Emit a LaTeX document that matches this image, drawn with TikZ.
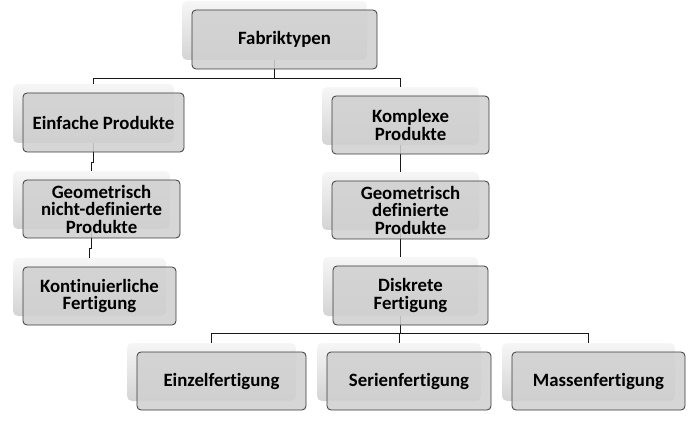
\documentclass[tikz,border=0pt]{standalone}
\usepackage{fontspec}
\setmainfont{Carlito}[RawFeature={-liga;-clig}]
\usetikzlibrary{calc}
\pgfdeclarelayer{shadowlayer}
\pgfdeclarelayer{connlayer}
\pgfsetlayers{shadowlayer,connlayer,main}
\definecolor{boxfill}{HTML}{D0D0D0}
\definecolor{boxline}{HTML}{3A3A3A}
\definecolor{shtop}{HTML}{F6F6F6}
\definecolor{shbot}{HTML}{D4D4D4}
\newcommand\mkbox[6]{%
  \pgfmathsetmacro\bw{#4-#2}%
  \pgfmathsetmacro\bh{#5-#3}%
  \pgfmathsetmacro\cx{(#2+#4)/2}%
  \pgfmathsetmacro\cy{(#3+#5)/2}%
  \begin{pgfonlayer}{shadowlayer}
    \node[shadowbox, minimum width=\bw pt, minimum height=\bh pt] (#1-s) at (\cx-10,\cy-9) {};
  \end{pgfonlayer}
  \node[mainbox, minimum width=\bw pt, minimum height=\bh pt] (#1) at (\cx,\cy) {#6};
}
\begin{document}
\begin{tikzpicture}[x=1pt,y=-1pt,
  shadowbox/.style={rectangle, rounded corners=5pt, top color=shtop, bottom color=shbot, draw=none, inner sep=0pt},
  mainbox/.style={rectangle, rounded corners=4pt, fill=boxfill, fill opacity=0.88, text opacity=1, draw=boxline, line width=0.8pt, inner sep=0pt, align=center, text=black, font=\bfseries\fontsize{18.8}{17.5}\selectfont},
  conn/.style={draw=black!90, line width=0.8pt}]
\useasboundingbox (0,0) rectangle (697,425);

\mkbox{fab}{192}{10}{377}{69}{Fabriktypen}
\mkbox{einf}{23}{93}{184}{152}{Einfache Produkte}
\mkbox{geon}{23}{180}{180}{238}{Geometrisch\\nicht-definierte\\Produkte}
\mkbox{kont}{23}{267}{176}{325}{Kontinuierliche\\Fertigung}
\mkbox{komp}{332}{96}{489}{154}{Komplexe\\Produkte}
\mkbox{geod}{332}{181}{489}{239}{Geometrisch\\definierte\\Produkte}
\mkbox{disk}{333}{266}{488}{325}{Diskrete\\Fertigung}
\mkbox{einz}{137}{352}{306}{410}{Einzelfertigung}
\mkbox{seri}{327}{352}{491}{410}{Serienfertigung}
\mkbox{mass}{512}{352}{685}{410}{Massenfertigung}

\begin{pgfonlayer}{connlayer}
  \draw[conn] (fab-s.south) -- ++(0,18) -| (einf-s.north);
  \draw[conn] (fab-s.south) -- ++(0,18) -| (komp-s.north);
  \draw[conn] (einf-s.south) -- ++(0,19) -| (geon-s.north);
  \draw[conn] (geon-s.south) -- ++(0,19) -| (kont-s.north);
  \draw[conn] (komp-s.south) -- (geod-s.north);
  \draw[conn] (geod-s.south) -- (disk-s.north);
  \draw[conn] (disk-s.south) -- ++(0,17) -| (einz-s.north);
  \draw[conn] (disk-s.south) -- ++(0,17) -| (seri-s.north);
  \draw[conn] (disk-s.south) -- ++(0,17) -| (mass-s.north);
\end{pgfonlayer}
\end{tikzpicture}
\end{document}
